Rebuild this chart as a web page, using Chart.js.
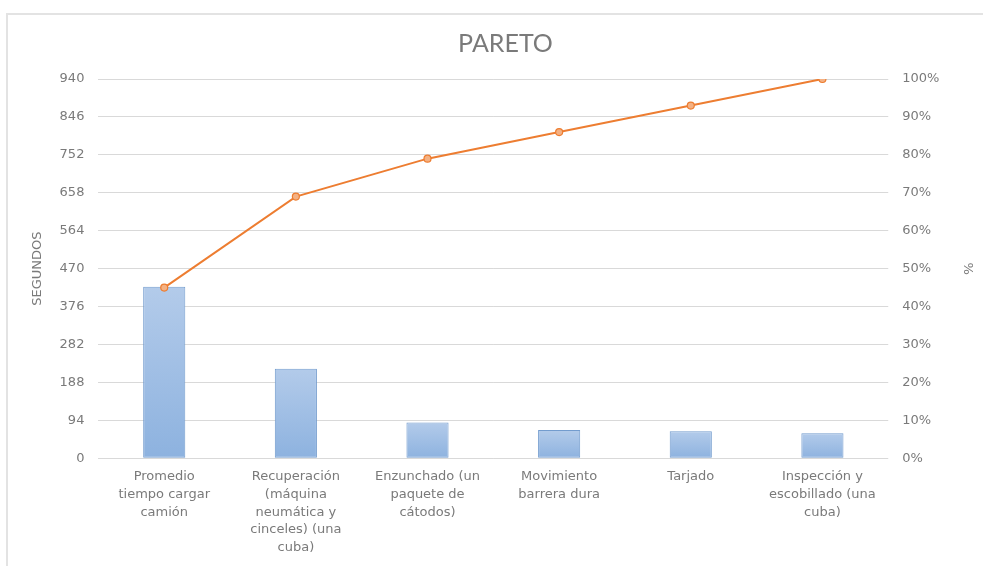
<!DOCTYPE html>
<html>
<head>
<meta charset="utf-8">
<script src="https://cdn.jsdelivr.net/npm/chart.js@4"></script>
<style>
  html, body { margin: 0; padding: 0; background: #fff; }
  #frame {
    position: absolute; left: 6px; top: 13px; width: 977px; height: 553px;
    border-left: 2px solid #e3e3e3; border-top: 2px solid #e3e3e3;
  }
</style>
</head>
<body>
<div id="frame"><canvas id="paretoChart" width="975" height="551"></canvas></div>
<script>
var paretoCanvas = document.getElementById("paretoChart");
Chart.defaults.color = "#7a7a7a";
Chart.defaults.font.family = "'DejaVu Sans', Verdana, sans-serif";

// categories (each label split into its lines)
var categories = [
    ["Promedio", "tiempo cargar", "camión"],
    ["Recuperación", "(máquina", "neumática y", "cinceles) (una", "cuba)"],
    ["Enzunchado (un", "paquete de", "cátodos)"],
    ["Movimiento", "barrera dura"],
    ["Tarjado"],
    ["Inspección y", "escobillado (una", "cuba)"]
];
// seconds per activity
var segundos = [425, 222, 89, 70, 67, 62];
// cumulative percentage
var acumulado = [0.45, 0.69, 0.79, 0.86, 0.93, 1.00];
// left axis ticks
var leftMax = 940;
var leftStep = 94;

// blue gradient for each bar, light on top, darker at the bottom
function barGradient(context) {
    var chart = context.chart;
    var area = chart.chartArea;
    if (!area || !chart.scales.y) return "#a5c2e6";
    var top = chart.scales.y.getPixelForValue(segundos[context.dataIndex]);
    var g = chart.ctx.createLinearGradient(0, top, 0, area.bottom);
    g.addColorStop(0, "#b3cbea");
    g.addColorStop(1, "#8db2df");
    return g;
}

var paretoChart = new Chart(paretoCanvas, {
    data: {
        labels: categories,
        datasets: [
            {
                type: "line",
                data: acumulado,
                yAxisID: "yPct",
                borderColor: "#ed7d31",
                borderWidth: 2,
                pointRadius: 3.5,
                pointBackgroundColor: "#f4b183",
                pointBorderColor: "#ed7d31",
                pointBorderWidth: 1.2,
                tension: 0,
                order: 0
            },
            {
                type: "bar",
                data: segundos,
                yAxisID: "y",
                backgroundColor: barGradient,
                borderColor: "#739cce",
                borderWidth: 1,
                borderSkipped: false,
                barPercentage: 0.32,
                categoryPercentage: 1,
                order: 1
            }
        ]
    },
    options: {
        responsive: false,
        animation: false,
        layout: { padding: { left: 22, right: 2, top: 0, bottom: 8 } },
        plugins: {
            legend: { display: false },
            tooltip: { enabled: false },
            title: {
                display: true,
                text: "PARETO",
                color: "#7a7a7a",
                font: { family: "Lato, 'Open Sans', sans-serif", size: 25, weight: "normal" },
                padding: { top: 14, bottom: 20 }
            }
        },
        scales: {
            x: {
                grid: { display: false },
                border: { display: false },
                ticks: {
                    color: "#7a7a7a",
                    maxRotation: 0,
                    autoSkip: false,
                    padding: 1,
                    font: { size: 13, lineHeight: 1.38 }
                }
            },
            y: {
                position: "left",
                min: 0,
                max: leftMax,
                grid: { color: "#d9d9d9", drawTicks: false },
                border: { display: false },
                ticks: { stepSize: leftStep, padding: 14, color: "#7a7a7a", font: { size: 13 } },
                title: {
                    display: true,
                    text: "SEGUNDOS",
                    color: "#7a7a7a",
                    font: { size: 13 },
                    padding: 0
                }
            },
            yPct: {
                position: "right",
                min: 0,
                max: 1,
                grid: { display: false, drawTicks: false },
                border: { display: false },
                ticks: {
                    stepSize: 0.1,
                    padding: 14,
                    color: "#7a7a7a",
                    font: { size: 13 },
                    callback: function (v) { return Math.round(v * 100) + "%"; }
                },
                title: {
                    display: true,
                    text: "%",
                    color: "#7a7a7a",
                    font: { size: 13 },
                    padding: 6
                }
            }
        }
    }
});
</script>
</body>
</html>
